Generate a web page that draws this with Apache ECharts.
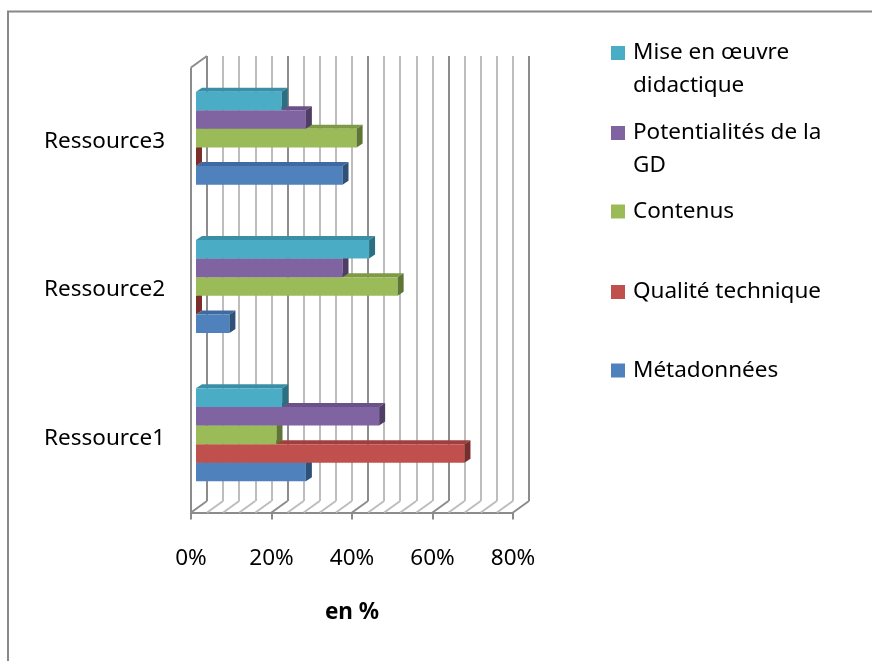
<!DOCTYPE html>
<html>
<head>
<meta charset="UTF-8">
<title>Ressources</title>
<script src="https://cdn.jsdelivr.net/npm/echarts@6/dist/echarts.min.js"></script>
<style>
html, body { margin: 0; padding: 0; background: #fff; }
#chart { width: 872px; height: 661px; }
</style>
</head>
<body>
<div id="chart"></div>
<script>
// data (en %)
var categories = ['Ressource1', 'Ressource2', 'Ressource3'];
var metadonnees = [27.3, 8.3, 36.4];
var qualiteTechnique = [66.7, 0, 0];
var contenus = [20, 50.1, 39.9];
var potentialites = [45.5, 36.4, 27.3];
var miseEnOeuvre = [21.4, 43, 21.3];
var xTicks = [0, 20, 40, 60, 80];
var gridTicks = [0, 4, 8, 12, 16, 20, 24, 28, 32, 36, 40, 44, 48, 52, 56, 60, 64, 68, 72, 76, 80];

var FONT = 'Noto Sans';
var FS = 22.5;
var BACK = [16, -11.5];   // front plane -> back wall
var DEPTH = [6, -4];      // bar thickness in depth
var GROUP = 0.627;        // part of the band used by the 5 bars

// front / top / side shades
var shades = {
  'Métadonnées': ['#4F81BD', '#3E6A9F', '#2F5078'],
  'Qualité technique': ['#C0504D', '#A03F3C', '#7A2E2C'],
  'Contenus': ['#9BBB59', '#7E9A47', '#5F7535'],
  'Potentialités de la GD': ['#8064A2', '#6A5289', '#4F3D66'],
  'Mise en œuvre didactique': ['#4BACC6', '#3A8FA6', '#2C6F82']
};
var seriesData = [
  ['Métadonnées', metadonnees],
  ['Qualité technique', qualiteTechnique],
  ['Contenus', contenus],
  ['Potentialités de la GD', potentialites],
  ['Mise en œuvre didactique', miseEnOeuvre]
];

function barRenderer(k, c) {
  return function (params, api) {
    var cat = api.value(0), val = api.value(1);
    var p0 = api.coord([0, cat]);
    var p1 = api.coord([val, cat]);
    var h = api.size([0, 1])[1] * GROUP / 5;
    var y = p0[1] + 2.5 * h - (k + 1) * h;
    var x0 = p0[0], x1 = p1[0], dx = DEPTH[0], dy = DEPTH[1];
    return {
      type: 'group',
      children: [
        { type: 'polygon', shape: { points: [[x0, y], [x1, y], [x1 + dx, y + dy], [x0 + dx, y + dy]] }, style: { fill: c[1] } },
        { type: 'rect', shape: { x: x0, y: y, width: x1 - x0, height: h }, style: { fill: c[0] } },
        { type: 'polygon', shape: { points: [[x1, y], [x1 + dx, y + dy], [x1 + dx, y + dy + h], [x1, y + h]] }, style: { fill: c[2] } }
      ]
    };
  };
}

function wallRenderer(params, api) {
  var v = api.value(0);
  var x = api.coord([v, 0])[0];
  var cs = params.coordSys;
  var yb = cs.y + cs.height;
  var col = v % 20 === 0 ? '#8c8c8c' : '#bdbdbd';
  var kids = [
    { type: 'line', shape: { x1: x, y1: yb, x2: x + BACK[0], y2: yb + BACK[1] }, style: { stroke: col, lineWidth: 2 } }
  ];
  if (v === 0) {
    kids.push({ type: 'line', shape: { x1: x, y1: cs.y, x2: x, y2: yb }, style: { stroke: '#8c8c8c', lineWidth: 2 } });
    kids.push({ type: 'line', shape: { x1: x, y1: cs.y, x2: x + BACK[0], y2: cs.y + BACK[1] }, style: { stroke: '#8c8c8c', lineWidth: 2 } });
  }
  return { type: 'group', children: kids };
}

var series = [{
  type: 'custom',
  xAxisIndex: 2, yAxisIndex: 2,
  z: 1,
  silent: true,
  renderItem: wallRenderer,
  encode: { x: 0, y: 1 },
  data: gridTicks.map(function (v) { return [v, 0]; })
}];
seriesData.forEach(function (s, k) {
  series.push({
    type: 'custom',
    name: s[0],
    xAxisIndex: 0, yAxisIndex: 0,
    z: 2 + k,
    itemStyle: { color: shades[s[0]][0] },
    renderItem: barRenderer(k, shades[s[0]]),
    encode: { x: 1, y: 0 },
    data: s[1].map(function (v, i) { return [i, v]; })
  });
});

// legend, top to bottom
var LH = 33;
var legendItems = [
  ['Mise en œuvre didactique', '\nMise en œuvre\ndidactique', 53, 1.5],
  ['Potentialités de la GD', '\nPotentialités de la\nGD', 133, 1.5],
  ['Contenus', 'Contenus', 211.5, 0.5],
  ['Qualité technique', 'Qualité technique', 292, 0.5],
  ['Métadonnées', 'Métadonnées', 370.5, 0.5]
];
var legends = legendItems.map(function (it) {
  return {
    data: [it[0]],
    left: 611,
    top: it[2] - it[3] * LH,
    padding: 0,
    icon: 'rect',
    itemWidth: 14,
    itemHeight: 14,
    selectedMode: false,
    formatter: function () { return it[1]; },
    textStyle: { fontFamily: FONT, fontSize: FS, color: '#000', lineHeight: LH, padding: [0, 0, 0, 3] }
  };
});

var chart = echarts.init(document.getElementById('chart'));
chart.setOption({
  backgroundColor: '#fff',
  animation: false,
  graphic: [{
    type: 'rect',
    shape: { x: 8, y: 11.5, width: 900, height: 700 },
    style: { fill: 'none', stroke: '#888', lineWidth: 2 }
  }],
  legend: legends,
  grid: [
    { left: 196, top: 64, width: 322, height: 445 },     // bars
    { left: 207, top: 56, width: 322, height: 445 },     // back wall
    { left: 191, top: 67.5, width: 322, height: 445 }    // front
  ],
  xAxis: [
    { gridIndex: 0, type: 'value', min: 0, max: 80, show: false },
    {
      gridIndex: 1, type: 'value', min: 0, max: 80, interval: 20,
      axisLine: { show: false }, axisTick: { show: false }, axisLabel: { show: false },
      minorTick: { show: false, splitNumber: 5 },
      splitLine: { show: true, lineStyle: { color: '#8c8c8c', width: 2 } },
      minorSplitLine: { show: true, lineStyle: { color: '#bdbdbd', width: 2 } }
    },
    {
      gridIndex: 2, type: 'value', min: 0, max: 80, interval: 20,
      axisLine: { show: true, lineStyle: { color: '#8c8c8c', width: 2 } },
      axisTick: { show: true, length: 7, lineStyle: { color: '#8c8c8c', width: 2 } },
      splitLine: { show: false },
      axisLabel: {
        margin: 35, fontFamily: FONT, fontSize: FS, color: '#000',
        formatter: function (v) { return xTicks.indexOf(v) >= 0 ? v + '%' : ''; }
      },
      name: 'en %',
      nameLocation: 'middle',
      nameGap: 89,
      nameTextStyle: { fontFamily: FONT, fontSize: FS, fontWeight: 'bold', color: '#000' }
    }
  ],
  yAxis: [
    { gridIndex: 0, type: 'category', data: categories, show: false },
    { gridIndex: 1, type: 'value', show: false },
    {
      gridIndex: 2, type: 'category', data: categories,
      axisLine: { show: false }, axisTick: { show: false }, splitLine: { show: false },
      axisLabel: { margin: 26, fontFamily: FONT, fontSize: FS, color: '#000', padding: [6, 0, 0, 0] }
    }
  ],
  series: series
});
</script>
</body>
</html>
